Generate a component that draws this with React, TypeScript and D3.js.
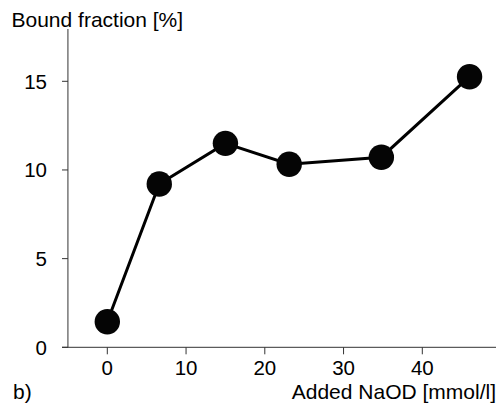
import React from "react";
import * as d3 from "d3";

const xValues = [0, 6.6, 15.0, 23.1, 34.8, 46.0];
const yValues = [1.44, 9.21, 11.5, 10.32, 10.72, 15.26];
const xTicks = [0, 10, 20, 30, 40];
const yTicks = [0, 5, 10, 15];

export default function App() {
  const W = 496, H = 408;
  const x = d3.scaleLinear().domain([0, 40]).range([107.3, 422.3]);
  const y = d3.scaleLinear().domain([0, 15]).range([347.3, 81.3]);
  const axisX = x(-5);
  const pts = xValues.map((v, i) => [x(v), y(yValues[i])] as [number, number]);
  const line = d3.line()(pts) || "";
  const font = "'Liberation Sans', Arial, sans-serif";
  return (
    <svg width={W} height={H} style={{ position: "absolute", left: 0, top: 0 }} fontFamily={font}>
      <rect width={W} height={H} fill="#fff" />
      <line x1={axisX} x2={axisX} y1={29} y2={y(0)} stroke="#333" strokeWidth={1} />
      <line x1={62} x2={W} y1={y(0)} y2={y(0)} stroke="#333" strokeWidth={1} />
      {yTicks.map(t => (
        <g key={t}>
          <line x1={62} x2={axisX} y1={y(t)} y2={y(t)} stroke="#333" />
          <text x={47} y={y(t) + 7.5} textAnchor="end" fontSize={20.5}>{t}</text>
        </g>
      ))}
      {xTicks.map(t => (
        <g key={t}>
          <line x1={x(t)} x2={x(t)} y1={y(0)} y2={y(0) + 7} stroke="#333" />
          <text x={x(t)} y={375} textAnchor="middle" fontSize={20.5}>{t}</text>
        </g>
      ))}
      <path d={line} fill="none" stroke="#000" strokeWidth={3} />
      {pts.map((p, i) => (
        <circle key={i} cx={p[0]} cy={p[1]} r={12.7} fill="#050505" />
      ))}
      <text x={11.5} y={26.5} fontSize={21}>Bound fraction [%]</text>
      <text x={13} y={398.5} fontSize={21}>b)</text>
      <text x={496} y={398.5} textAnchor="end" fontSize={21}>Added NaOD [mmol/l]</text>
    </svg>
  );
}
